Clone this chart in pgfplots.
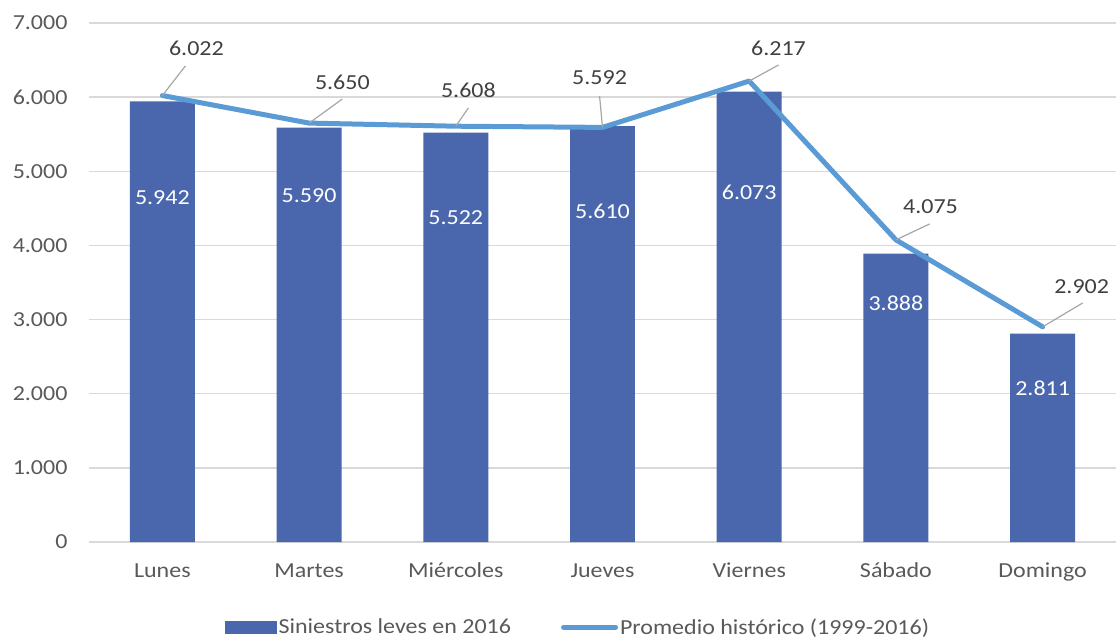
\documentclass[border=0pt]{standalone}
\usepackage{fontspec}
\setmainfont{Carlito}[FakeStretch=1.12]
\usepackage{pgfplots}
\pgfplotsset{compat=1.18}
\definecolor{barblue}{HTML}{4A66AC}
\definecolor{lineblue}{HTML}{5B9BD5}
\definecolor{gridgray}{HTML}{D9D9D9}
\definecolor{txtgray}{HTML}{595959}
\definecolor{lblgray}{HTML}{404040}
\definecolor{leadgray}{HTML}{A6A6A6}
\begin{document}
\begin{tikzpicture}[font=\fontsize{21.5}{25}\selectfont]
\useasboundingbox (-89bp,-96bp) rectangle (1028bp,542bp);
\begin{axis}[
  at={(0,0)}, anchor=south west,
  scale only axis, width=1027bp, height=519bp,
  xmin=-0.5, xmax=6.5, ymin=0, ymax=7000,
  xtick={0,...,6},
  xticklabels={Lunes,Martes,Miércoles,Jueves,Viernes,Sábado,Domingo},
  ytick={0,1000,...,7000},
  ymajorgrids, grid style={gridgray, line width=1.3bp},
  axis line style={draw=none}, major tick length=0pt,
  tick label style={text=txtgray, font=\fontsize{21.5}{25}\selectfont},
  /pgf/number format/1000 sep={.},
  /pgf/number format/assume math mode=true,
  yticklabel style={xshift=-18bp},
  xticklabel style={yshift=-17bp, text height=15bp, text depth=4bp},
  legend style={at={(axis description cs:0.476,-0.164)}, anchor=center, draw=none,
    fill=none, legend columns=2, font=\fontsize{21.5}{25}\selectfont, text=txtgray,
    /tikz/every even column/.append style={column sep=48bp}},
  legend cell align=left,
]
\addplot[ybar, bar width=0.443, fill=barblue, draw=none,
  legend image code/.code={\fill[barblue] (0bp,-6.5bp) rectangle (52bp,6.5bp);}]
  coordinates {(0,5942) (1,5590) (2,5522) (3,5610) (4,6073) (5,3888) (6,2811)};
\addlegendentry{Siniestros leves en 2016}
\addplot[lineblue, line width=5bp, line cap=round, line join=round,
  legend image code/.code={\draw[lineblue, line width=5bp, line cap=round] (2bp,0bp) -- (54bp,0bp);}]
  coordinates {(0,6022) (1,5650) (2,5608) (3,5592) (4,6217) (5,4075) (6,2902)};
\addlegendentry{Promedio histórico (1999-2016)}
% leader lines
\draw[leadgray, line width=1.2bp] (axis cs:0,6022) -- (axis cs:0.157,6420);
\draw[leadgray, line width=1.2bp] (axis cs:1,5650) -- (axis cs:1.227,5975);
\draw[leadgray, line width=1.2bp] (axis cs:2,5608) -- (axis cs:2.086,5854);
\draw[leadgray, line width=1.2bp] (axis cs:3,5592) -- (axis cs:2.98,6016);
\draw[leadgray, line width=1.2bp] (axis cs:4,6217) -- (axis cs:4.2,6434);
\draw[leadgray, line width=1.2bp] (axis cs:5,4075) -- (axis cs:5.229,4289);
\draw[leadgray, line width=1.2bp] (axis cs:6,2902) -- (axis cs:6.273,3224);
% line labels
\node[text=lblgray] at (axis cs:0.232,6663) {6.022};
\node[text=lblgray] at (axis cs:1.227,6204) {5.650};
\node[text=lblgray] at (axis cs:2.086,6097) {5.608};
\node[text=lblgray] at (axis cs:2.98,6258) {5.592};
\node[text=lblgray] at (axis cs:4.2,6663) {6.217};
\node[text=lblgray] at (axis cs:5.236,4518) {4.075};
\node[text=lblgray] at (axis cs:6.266,3439) {2.902};
% bar labels
\node[text=white] at (axis cs:0,4640) {5.942};
\node[text=white] at (axis cs:1,4667) {5.590};
\node[text=white] at (axis cs:2,4370) {5.522};
\node[text=white] at (axis cs:3,4465) {5.610};
\node[text=white] at (axis cs:4,4721) {6.073};
\node[text=white] at (axis cs:5,3224) {3.888};
\node[text=white] at (axis cs:6,2077) {2.811};
\end{axis}
\end{tikzpicture}
\end{document}
